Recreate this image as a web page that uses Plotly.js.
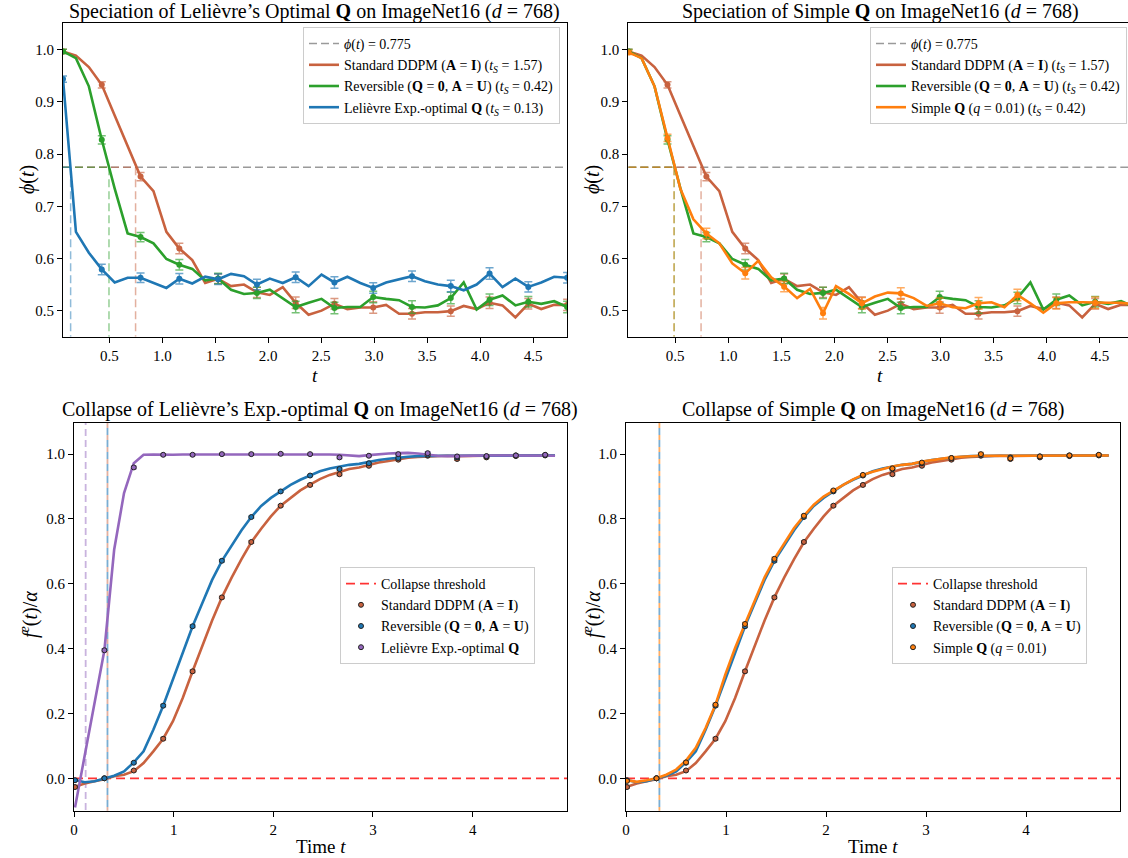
<!DOCTYPE html>
<html><head><meta charset="utf-8">
<script src="https://cdn.plot.ly/plotly-3.0.1.min.js"></script>
<style>body{margin:0;background:#fff}#chart{width:1128px;height:858px}</style>
</head><body><div id="chart"></div>
<script>
// ---------------- DATA ----------------
// Speciation (top row): time grid
const tTop = [0.063,0.185,0.307,0.429,0.551,0.673,0.795,0.917,1.039,1.161,1.283,1.405,1.527,1.649,1.771,1.893,2.015,2.137,2.259,2.381,2.503,2.625,2.747,2.869,2.991,3.113,3.235,3.357,3.479,3.601,3.723,3.845,3.967,4.089,4.211,4.333,4.455,4.577,4.699,4.821];
const phiStd = [0.997,0.989,0.967,0.933,0.874,0.815,0.757,0.729,0.651,0.619,0.597,0.553,0.561,0.547,0.550,0.535,0.530,0.545,0.515,0.492,0.500,0.513,0.503,0.506,0.506,0.511,0.494,0.494,0.497,0.497,0.499,0.509,0.503,0.515,0.510,0.487,0.513,0.503,0.511,0.511];
const phiRev = [0.997,0.984,0.930,0.8275,0.734,0.648,0.641,0.629,0.599,0.588,0.580,0.558,0.5615,0.540,0.532,0.534,0.540,0.524,0.507,0.515,0.5225,0.505,0.507,0.507,0.526,0.5225,0.520,0.507,0.506,0.510,0.524,0.554,0.502,0.521,0.529,0.510,0.517,0.513,0.518,0.507];
const phiLel = [0.944,0.651,0.611,0.579,0.554,0.563,0.563,0.553,0.5435,0.561,0.552,0.565,0.560,0.5705,0.566,0.550,0.5615,0.553,0.564,0.547,0.569,0.554,0.565,0.553,0.5435,0.554,0.560,0.566,0.5565,0.550,0.547,0.539,0.550,0.571,0.545,0.5615,0.5455,0.554,0.565,0.563];
const phiSim = [0.995,0.984,0.930,0.831,0.733,0.675,0.648,0.629,0.5905,0.5715,0.5955,0.564,0.546,0.524,0.5415,0.495,0.547,0.532,0.514,0.527,0.5345,0.533,0.524,0.509,0.514,0.5065,0.5045,0.514,0.516,0.5065,0.530,0.514,0.496,0.514,0.516,0.516,0.515,0.515,0.515,0.512];
// error bars at every third time point
const errStd = [0.004,0.006,0.008,0.010,0.009,0.010,0.011,0.010,0.011,0.010,0.010,0.011,0.010,0.011];
const errRev = [0.004,0.008,0.009,0.010,0.010,0.011,0.011,0.011,0.011,0.012,0.011,0.011,0.010,0.011];
const errLel = [0.006,0.010,0.009,0.010,0.010,0.010,0.010,0.011,0.010,0.010,0.011,0.011,0.010,0.010];
const errSim = [0.004,0.007,0.010,0.011,0.010,0.011,0.011,0.011,0.010,0.011,0.011,0.011,0.011,0.010];
const phiThreshold = 0.775;
// crossing times of phi(t)=0.775
const crossLeft  = {std: 0.748, rev: 0.497, lel: 0.135};
const crossRight = {std: 0.745, rev: 0.492, sim: 0.490};

// Collapse (bottom row): time grid
const tBot = [0.010,0.108,0.207,0.305,0.403,0.502,0.600,0.698,0.796,0.895,0.993,1.091,1.190,1.288,1.386,1.484,1.583,1.681,1.779,1.878,1.976,2.074,2.173,2.271,2.369,2.467,2.566,2.664,2.762,2.861,2.959,3.057,3.156,3.254,3.352,3.450,3.549,3.647,3.745,3.844,3.942,4.040,4.139,4.237,4.335,4.434,4.532,4.630,4.728,4.827];
const fStd = [-0.026,-0.016,-0.009,-0.003,0.006,0.011,0.022,0.047,0.083,0.122,0.176,0.248,0.330,0.410,0.487,0.558,0.620,0.676,0.728,0.770,0.808,0.841,0.864,0.888,0.906,0.923,0.936,0.946,0.954,0.959,0.967,0.974,0.979,0.985,0.989,0.991,0.993,0.994,0.995,0.994,0.995,0.995,0.996,0.996,0.996,0.996,0.996,0.996,0.996,0.996];
const fRev = [-0.005,-0.012,-0.009,-0.001,0.008,0.021,0.049,0.083,0.150,0.224,0.306,0.386,0.469,0.541,0.612,0.671,0.720,0.765,0.806,0.840,0.865,0.885,0.905,0.921,0.934,0.947,0.956,0.962,0.967,0.970,0.977,0.982,0.986,0.990,0.992,0.994,0.995,0.995,0.995,0.995,0.995,0.996,0.996,0.996,0.996,0.996,0.996,0.996,0.996,0.996];
const fLel = [-0.090,0.071,0.233,0.395,0.705,0.880,0.972,0.998,0.999,0.998,0.998,0.999,0.999,1.000,1.001,1.001,1.001,1.001,1.001,1.001,1.001,1.000,1.000,1.000,0.999,0.999,0.999,0.998,0.997,0.994,0.997,1.000,1.002,1.003,1.004,1.002,0.998,0.995,0.994,0.995,0.996,0.996,0.996,0.996,0.996,0.997,0.996,0.996,0.996,0.995];
const fSim = [-0.006,-0.011,-0.006,0.000,0.011,0.027,0.055,0.094,0.155,0.227,0.320,0.402,0.476,0.551,0.620,0.677,0.726,0.772,0.810,0.844,0.869,0.888,0.905,0.922,0.936,0.946,0.954,0.962,0.967,0.970,0.977,0.982,0.986,0.990,0.992,0.994,0.995,0.995,0.995,0.995,0.996,0.996,0.996,0.996,0.996,0.997,0.996,0.996,0.997,0.996];
// measured means (every third time point) and their error bars
const mStd = [-0.027,0.000,0.024,0.122,0.330,0.558,0.729,0.841,0.905,0.938,0.964,0.983,0.995,0.985,0.990,0.994,0.996];
const mRev = [-0.006,0.000,0.048,0.224,0.469,0.671,0.806,0.885,0.934,0.954,0.972,0.988,0.998,0.990,0.993,0.996,0.997];
const mLel = [-0.110,0.395,0.959,0.998,0.998,1.000,1.000,1.001,1.000,0.990,0.995,1.000,1.003,0.993,0.994,0.996,0.998];
const mSim = [-0.008,0.000,0.049,0.227,0.476,0.677,0.810,0.888,0.936,0.956,0.974,0.988,1.000,0.987,0.993,0.996,0.998];
const eStd = [0.004,0.003,0.003,0.004,0.004,0.004,0.004,0.003,0.004,0.004,0.003,0.003,0.004,0.004,0.003,0.003,0.003];
const eRev = [0.003,0.003,0.003,0.004,0.004,0.004,0.003,0.003,0.003,0.003,0.003,0.003,0.005,0.004,0.003,0.003,0.003];
const eLel = [0.004,0.005,0.004,0.003,0.003,0.003,0.003,0.003,0.003,0.004,0.003,0.003,0.005,0.003,0.003,0.003,0.003];
const eSim = [0.003,0.003,0.004,0.005,0.005,0.005,0.004,0.003,0.003,0.003,0.003,0.003,0.005,0.004,0.003,0.003,0.003];
// collapse times (vertical markers)
const collapseLeft  = {std: 0.336, rev: 0.336, lel: 0.117};
const collapseRight = {std: 0.334, rev: 0.334, sim: 0.334};
const collapseThreshold = 0.0;

// ---------------- STYLE ----------------
const W = 1128, H = 858;
const FONT = 'Liberation Serif, "Times New Roman", Times, serif';
const C = {std:'#c8623f', rev:'#2ca02c', lel:'#1f77b4', sim:'#ff7f0e', pur:'#9467bd', blu:'#1f77b4'};
function rgba(hex, a){const n=parseInt(hex.slice(1),16);return `rgba(${(n>>16)&255},${(n>>8)&255},${n&255},${a})`;}
const every3 = arr => arr.filter((_, i) => i % 3 === 0);

const LBL = {
  thr: '<i>ϕ</i>(<i>t</i>) = 0.775',
  std: 'Standard DDPM (<b>A</b> = <b>I</b>) (<i>t<sub>S</sub></i> = 1.57)',
  rev: 'Reversible (<b>Q</b> = <b>0</b>, <b>A</b> = <b>U</b>) (<i>t<sub>S</sub></i> = 0.42)',
  lel: 'Lelièvre Exp.-optimal <b>Q</b> (<i>t<sub>S</sub></i> = 0.13)',
  sim: 'Simple <b>Q</b> (<i>q</i> = 0.01) (<i>t<sub>S</sub></i> = 0.42)',
  col: 'Collapse threshold',
  stdB: 'Standard DDPM (<b>A</b> = <b>I</b>)',
  revB: 'Reversible (<b>Q</b> = <b>0</b>, <b>A</b> = <b>U</b>)',
  lelB: 'Lelièvre Exp.-optimal <b>Q</b>',
  simB: 'Simple <b>Q</b> (<i>q</i> = 0.01)'
};

const traces = [];
const topXR = {x:[0.063,4.82], x2:[0.06,4.764]};
const topYR = [0.45,1.052];
const botXR = {x3:[0,4.95], x4:[0,4.94]};
const botYR = [-0.1,1.097];

function topPanel(xa, ya, leg, series, xr){
  traces.push({x:xr, y:[phiThreshold,phiThreshold], xaxis:xa, yaxis:ya, mode:'lines', name:LBL.thr, legend:leg,
    line:{color:'#9a9a9a', width:1.5, dash:'8px,4px'}, hoverinfo:'skip'});
  series.forEach(s=>{
    traces.push({x:[xr[0], s.cross, null, s.cross, s.cross], y:[phiThreshold,phiThreshold,null,phiThreshold,topYR[0]],
      xaxis:xa, yaxis:ya, mode:'lines', showlegend:false, line:{color:rgba(s.color,0.5), width:1.5, dash:'8px,4px'}, hoverinfo:'skip'});
  });
  series.forEach(s=>{
    traces.push({x:tTop, y:s.y, xaxis:xa, yaxis:ya, mode:'lines', name:s.name, legend:leg, line:{color:s.color, width:2.6}});
    traces.push({x:every3(tTop), y:every3(s.y), xaxis:xa, yaxis:ya, mode:'markers', showlegend:false,
      marker:{color:s.color, size:6},
      error_y:{type:'data', array:s.err, color:rgba(s.color,0.65), thickness:1.5, width:4}});
  });
}
topPanel('x','y','legend',[
  {name:LBL.std, y:phiStd, err:errStd, color:C.std, cross:crossLeft.std},
  {name:LBL.rev, y:phiRev, err:errRev, color:C.rev, cross:crossLeft.rev},
  {name:LBL.lel, y:phiLel, err:errLel, color:C.lel, cross:crossLeft.lel}], topXR.x);
topPanel('x2','y2','legend2',[
  {name:LBL.std, y:phiStd, err:errStd, color:C.std, cross:crossRight.std},
  {name:LBL.rev, y:phiRev, err:errRev, color:C.rev, cross:crossRight.rev},
  {name:LBL.sim, y:phiSim, err:errSim, color:C.sim, cross:crossRight.sim}], topXR.x2);

function botPanel(xa, ya, leg, series, vlines, xr){
  traces.push({x:xr, y:[collapseThreshold,collapseThreshold], xaxis:xa, yaxis:ya, mode:'lines', name:LBL.col, legend:leg,
    line:{color:'rgba(255,0,0,0.8)', width:1.7, dash:'9px,5px'}, hoverinfo:'skip'});
  vlines.forEach(v=>{
    traces.push({x:[v.t,v.t], y:[-0.2,1.2], xaxis:xa, yaxis:ya, mode:'lines', showlegend:false,
      line:{color:rgba(v.color,v.a), width:1.8, dash:v.dash}, hoverinfo:'skip'});
  });
  series.forEach(s=>{
    traces.push({x:tBot, y:s.line, xaxis:xa, yaxis:ya, mode:'lines', showlegend:false, line:{color:s.color, width:2.6}});
  });
  series.forEach(s=>{
    traces.push({x:every3(tBot), y:s.m, xaxis:xa, yaxis:ya, mode:'markers', name:s.name, legend:leg,
      marker:{color:s.color, size:5, line:{color:'#222', width:1}},
      error_y:{type:'data', array:s.e, color:rgba(s.color,0.7), thickness:1.3, width:3}});
  });
}
botPanel('x3','y3','legend3',[
  {name:LBL.stdB, line:fStd, m:mStd, e:eStd, color:C.std},
  {name:LBL.revB, line:fRev, m:mRev, e:eRev, color:C.blu},
  {name:LBL.lelB, line:fLel, m:mLel, e:eLel, color:C.pur}],
  [{t:collapseLeft.lel, color:C.pur, a:0.5, dash:'7px,4px'},
   {t:collapseLeft.std, color:C.std, a:0.5, dash:'0px,7px,5px,0px'},
   {t:collapseLeft.rev, color:C.blu, a:0.6, dash:'7px,5px'}], botXR.x3);
botPanel('x4','y4','legend4',[
  {name:LBL.stdB, line:fStd, m:mStd, e:eStd, color:C.std},
  {name:LBL.revB, line:fRev, m:mRev, e:eRev, color:C.blu},
  {name:LBL.simB, line:fSim, m:mSim, e:eSim, color:C.sim}],
  [{t:collapseRight.sim, color:C.sim, a:0.65, dash:'0px,7px,5px,0px'},
   {t:collapseRight.rev, color:C.blu, a:0.6, dash:'7px,5px'}], botXR.x4);

// ---------------- LAYOUT ----------------
const px = v => v / W, py = v => 1 - v / H;
const axBase = {showline:true, linecolor:'#000', linewidth:1, mirror:true, ticks:'outside', ticklen:5, tickwidth:1,
  tickcolor:'#000', showgrid:false, zeroline:false, tickfont:{family:FONT, size:15, color:'#000'}, fixedrange:true};
const legBase = {bgcolor:'rgba(255,255,255,0.85)', bordercolor:'#cccccc', borderwidth:1,
  font:{family:FONT, size:14, color:'#000'}, xanchor:'right', yanchor:'top', tracegroupgap:0, itemwidth:30};

const ann = (x, y, text, size, angle, yanchor) => ({xref:'paper', yref:'paper', x:px(x), y:py(y), text, showarrow:false,
  xanchor:'center', yanchor:yanchor||'middle', textangle:angle||0, font:{family:FONT, size, color:'#000'}});

const layout = {
  width:W, height:H, margin:{l:0,r:0,t:0,b:0}, paper_bgcolor:'#fff', plot_bgcolor:'#fff', showlegend:true,
  xaxis: Object.assign({}, axBase, {domain:[px(63),px(567)], anchor:'y', range:topXR.x, tick0:0.5, dtick:0.5, tickformat:'.1f'}),
  yaxis: Object.assign({}, axBase, {domain:[py(336.7),py(22.7)], anchor:'x', range:topYR, tick0:0.5, dtick:0.1, tickformat:'.1f'}),
  xaxis2: Object.assign({}, axBase, {domain:[px(628.3),1], anchor:'y2', range:topXR.x2, tick0:0.5, dtick:0.5, tickformat:'.1f'}),
  yaxis2: Object.assign({}, axBase, {domain:[py(336.7),py(22.7)], anchor:'x2', range:topYR, tick0:0.5, dtick:0.1, tickformat:'.1f', mirror:false}),
  xaxis3: Object.assign({}, axBase, {domain:[px(74),px(567.3)], anchor:'y3', range:botXR.x3, tick0:0, dtick:1, tickformat:'d'}),
  yaxis3: Object.assign({}, axBase, {domain:[py(810.7),py(422.7)], anchor:'x3', range:botYR, tick0:0, dtick:0.2, tickformat:'.1f'}),
  xaxis4: Object.assign({}, axBase, {domain:[px(626),px(1120)], anchor:'y4', range:botXR.x4, tick0:0, dtick:1, tickformat:'d'}),
  yaxis4: Object.assign({}, axBase, {domain:[py(810.7),py(422.7)], anchor:'x4', range:botYR, tick0:0, dtick:0.2, tickformat:'.1f'}),
  legend:  Object.assign({}, legBase, {x:px(560), y:py(27)}),
  legend2: Object.assign({}, legBase, {x:px(1127), y:py(27)}),
  legend3: Object.assign({}, legBase, {x:px(535), y:py(567)}),
  legend4: Object.assign({}, legBase, {x:px(1087), y:py(567)}),
  annotations: [
    ann(314, 12, 'Speciation of Lelièvre’s Optimal <b>Q</b> on ImageNet16 (<i>d</i> = 768)', 20),
    ann(880, 12, 'Speciation of Simple <b>Q</b> on ImageNet16 (<i>d</i> = 768)', 20),
    ann(320, 410, 'Collapse of Lelièvre’s Exp.-optimal <b>Q</b> on ImageNet16 (<i>d</i> = 768)', 20),
    ann(873, 410, 'Collapse of Simple <b>Q</b> on ImageNet16 (<i>d</i> = 768)', 20),
    ann(315, 363, '<i>t</i>', 19, 0, 'top'),
    ann(880, 363, '<i>t</i>', 19, 0, 'top'),
    ann(321, 834, 'Time <i>t</i>', 19, 0, 'top'),
    ann(873, 834, 'Time <i>t</i>', 19, 0, 'top'),
    ann(27, 180, '<i>ϕ</i>(<i>t</i>)', 20, -90),
    ann(592, 180, '<i>ϕ</i>(<i>t</i>)', 20, -90),
    ann(29, 615, '<i>f</i><sup><i>e</i></sup>(<i>t</i>)/<i>α</i>', 20, -90),
    ann(592, 615, '<i>f</i><sup><i>e</i></sup>(<i>t</i>)/<i>α</i>', 20, -90)
  ]
};
Plotly.newPlot('chart', traces, layout, {staticPlot:true, displayModeBar:false});
</script></body></html>
